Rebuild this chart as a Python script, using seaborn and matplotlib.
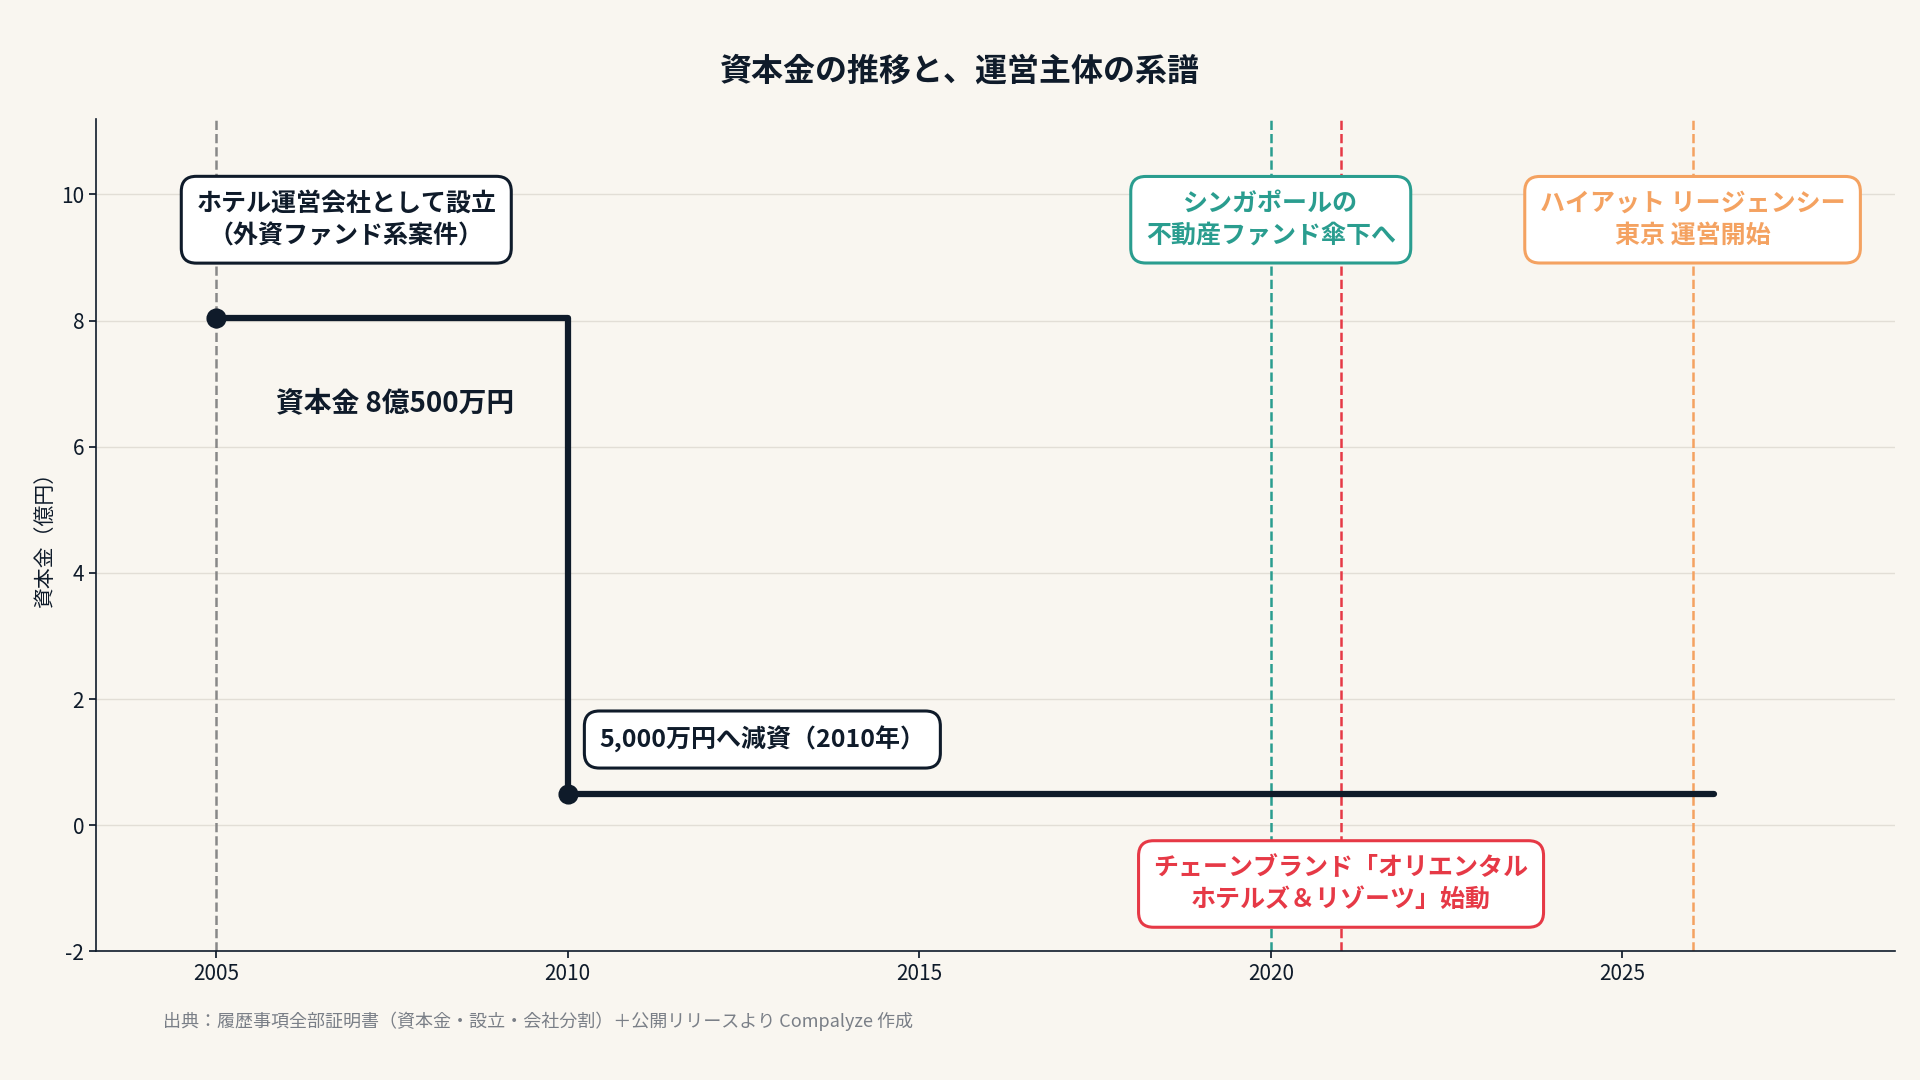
import matplotlib
matplotlib.use("Agg")
import matplotlib.pyplot as plt
import seaborn as sns
import pandas as pd

sns.set_theme(style="white")
plt.rcParams['font.family'] = ['Noto Sans CJK JP', 'DejaVu Sans']
plt.rcParams['axes.unicode_minus'] = False

BG = "#f9f6f0"
DARK = "#0f1b2a"
TEAL = "#2a9d8f"
RED = "#e63946"
ORANGE = "#f4a261"
GRAY = "#888888"

# capital (100M yen) step data
years = [2005, 2010, 2010, 2026.3]
capital = [8.05, 8.05, 0.5, 0.5]
marker_years = [2005, 2010]
marker_capital = [8.05, 0.5]

event_years = [2005, 2020, 2021, 2026]
event_colors = [GRAY, TEAL, RED, ORANGE]
event_labels = ["ホテル運営会社として設立\n（外資ファンド系案件）",
                "シンガポールの\n不動産ファンド傘下へ",
                "チェーンブランド「オリエンタル\nホテルズ＆リゾーツ」始動",
                "ハイアット リージェンシー\n東京 運営開始"]
label_pos = [(2006.85, 9.6), (2020, 9.6), (2021, -0.93), (2026, 9.6)]
label_text_colors = [DARK, TEAL, RED, ORANGE]

df = pd.DataFrame({"year": years, "capital": capital})

fig, ax = plt.subplots(figsize=(19.2, 10.8), dpi=100)
fig.patch.set_facecolor(BG)
ax.set_facecolor(BG)

ax.yaxis.grid(True, color="#e2ded6", linewidth=1)
ax.set_axisbelow(True)

for yr, c in zip(event_years, event_colors):
    ax.axvline(yr, color=c, linestyle="--", linewidth=1.8, zorder=1)

sns.lineplot(data=df, x="year", y="capital", color=DARK, linewidth=4.5, ax=ax,
             sort=False, estimator=None, zorder=3)
sns.scatterplot(x=marker_years, y=marker_capital, color=DARK, s=180, ax=ax,
                zorder=4, edgecolor=DARK)

for txt, (x, y), c in zip(event_labels, label_pos, label_text_colors):
    ax.text(x, y, txt, ha="center", va="center", fontsize=18, fontweight="bold",
            color=c, linespacing=1.45, zorder=5,
            bbox=dict(boxstyle="round,pad=0.6", facecolor="white", edgecolor=c, linewidth=2.2))

ax.text(2010.45, 1.36, "5,000万円へ減資（2010年）", ha="left", va="center", fontsize=18,
        fontweight="bold", color=DARK, zorder=5,
        bbox=dict(boxstyle="round,pad=0.6", facecolor="white", edgecolor=DARK, linewidth=2.2))
ax.text(2007.54, 6.69, "資本金 8億500万円", ha="center", va="center", fontsize=20,
        fontweight="bold", color=DARK)

ax.set_xlim(2003.29, 2028.88)
ax.set_ylim(-2, 11.2)
ax.set_xticks([2005, 2010, 2015, 2020, 2025])
ax.set_yticks([-2, 0, 2, 4, 6, 8, 10])
ax.tick_params(axis="both", labelsize=15, colors=DARK, length=5, left=True, bottom=True)
ax.set_xlabel("")
ax.set_ylabel("資本金（億円）", fontsize=15, color=DARK)
for s in ["top", "right"]:
    ax.spines[s].set_visible(False)
for s in ["left", "bottom"]:
    ax.spines[s].set_color(DARK)
    ax.spines[s].set_linewidth(1.2)

fig.subplots_adjust(left=0.05, right=0.987, top=0.89, bottom=0.119)
fig.suptitle("資本金の推移と、運営主体の系譜", fontsize=23, fontweight="bold", color=DARK, y=0.948)
fig.text(0.085, 0.049, "出典：履歴事項全部証明書（資本金・設立・会社分割）＋公開リリースより Compalyze 作成",
         fontsize=13, color="#7a7f87")

fig.savefig("out.png", dpi=100, facecolor=BG)
